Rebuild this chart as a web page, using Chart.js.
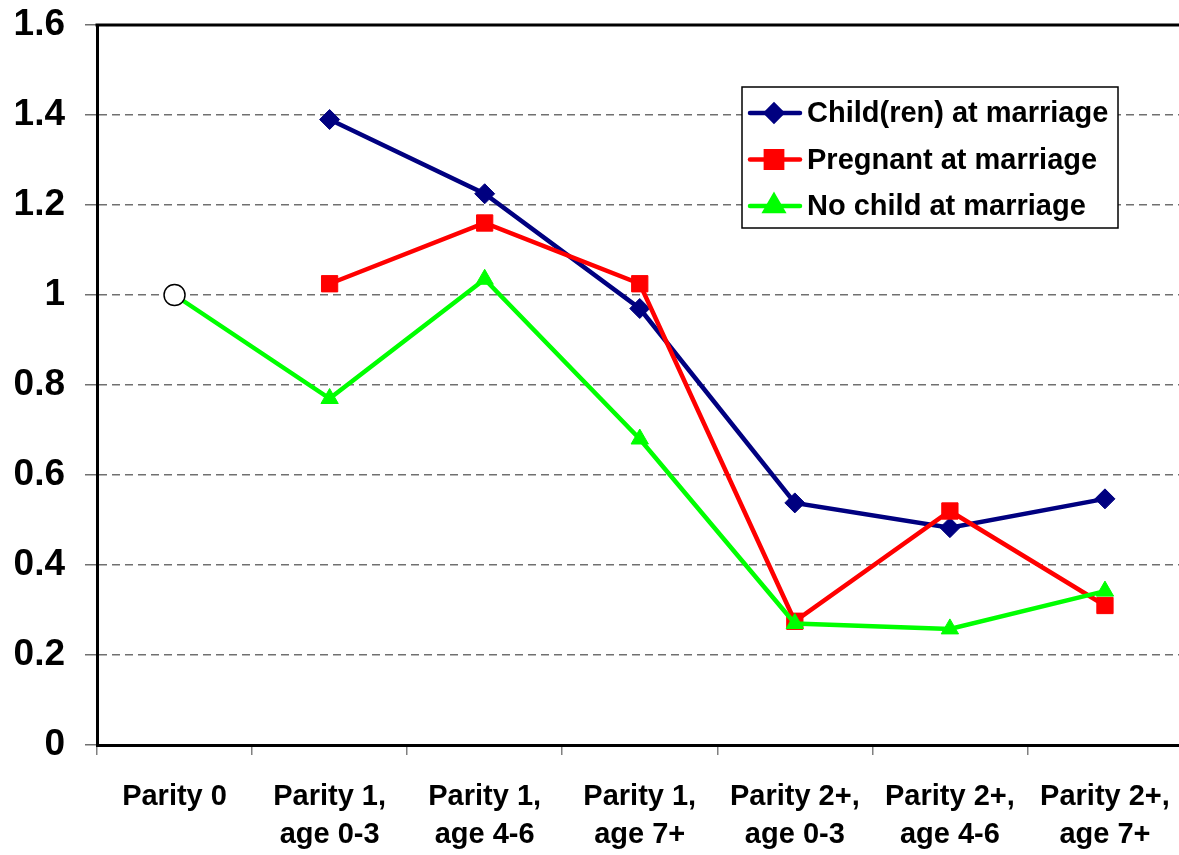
<!DOCTYPE html>
<html>
<head>
<meta charset="utf-8">
<script src="https://cdn.jsdelivr.net/npm/chart.js@4.4.1/dist/chart.umd.min.js"></script>
<style>
html, body { margin: 0; padding: 0; background: #fff; overflow: hidden; }
#wrap { position: relative; width: 1195px; height: 855px; }
</style>
</head>
<body>
<div id="wrap"><canvas id="chart" width="1195" height="855"></canvas></div>
<script>
// data
const categories = [
    ["Parity 0"],
    ["Parity 1,", "age 0-3"],
    ["Parity 1,", "age 4-6"],
    ["Parity 1,", "age 7+"],
    ["Parity 2+,", "age 0-3"],
    ["Parity 2+,", "age 4-6"],
    ["Parity 2+,", "age 7+"]
];
const childAtMarriage    = [null, 1.39, 1.225, 0.97, 0.538, 0.483, 0.547];
const pregnantAtMarriage = [null, 1.025, 1.16, 1.025, 0.275, 0.52, 0.31];
const noChildAtMarriage  = [1.0, 0.77, 1.035, 0.68, 0.27, 0.258, 0.342];
const referencePoint     = [1, null, null, null, null, null, null];
const yMin = 0, yMax = 1.6, yStep = 0.2;

Chart.defaults.font.family = "'Liberation Sans', Arial, sans-serif";
Chart.defaults.color = '#000';

// 圖例框 (畫在繪圖區內)
const legendBox = {
    id: 'legendBox',
    afterDraw(chart, args, o) {
        const ctx = chart.ctx;
        ctx.save();
        ctx.fillStyle = '#fff';
        ctx.fillRect(o.x, o.y, o.w, o.h);
        ctx.strokeStyle = '#000';
        ctx.lineWidth = 1.5;
        ctx.strokeRect(o.x, o.y, o.w, o.h);
        const items = chart.data.datasets.filter(d => d.label);
        items.forEach((ds, i) => {
            const cy = o.y + o.firstRow + i * o.rowGap;
            ctx.strokeStyle = ds.borderColor;
            ctx.lineWidth = ds.borderWidth;
            ctx.lineCap = 'round';
            ctx.beginPath();
            ctx.moveTo(o.x + 8, cy);
            ctx.lineTo(o.x + 58, cy);
            ctx.stroke();
            ctx.fillStyle = ds.pointBackgroundColor;
            ctx.strokeStyle = ds.pointBorderColor;
            Chart.helpers.drawPoint(ctx, { pointStyle: ds.pointStyle, radius: ds.legendRadius, borderWidth: 1, rotation: 0 }, o.x + 32, cy);
            ctx.fillStyle = '#000';
            ctx.font = 'bold 29px ' + Chart.defaults.font.family;
            ctx.textBaseline = 'middle';
            ctx.textAlign = 'left';
            ctx.fillText(ds.label, o.x + 65, cy + 1);
        });
        ctx.restore();
    }
};

// 上框線
const topFrame = {
    id: 'topFrame',
    afterDraw(chart) {
        const { ctx, chartArea } = chart;
        ctx.save();
        ctx.strokeStyle = '#000';
        ctx.lineWidth = 3;
        ctx.beginPath();
        ctx.moveTo(chartArea.left - 1.5, chartArea.top);
        ctx.lineTo(chartArea.right, chartArea.top);
        ctx.lineTo(chartArea.right, chartArea.bottom);
        ctx.stroke();
        ctx.restore();
    }
};

const ctx = document.getElementById('chart').getContext('2d');
new Chart(ctx, {
    type: 'line',
    data: {
        labels: categories,
        datasets: [
            {
                label: 'Child(ren) at marriage',
                data: childAtMarriage,
                borderColor: '#000080',
                borderWidth: 4.5,
                pointStyle: 'rectRot',
                pointRadius: 10,
                legendRadius: 8,
                pointBackgroundColor: '#000080',
                pointBorderColor: '#000080',
                pointBorderWidth: 1,
                tension: 0,
                order: 3
            },
            {
                label: 'Pregnant at marriage',
                data: pregnantAtMarriage,
                borderColor: '#FF0000',
                borderWidth: 4.5,
                pointStyle: 'rect',
                pointRadius: 11.5,
                legendRadius: 11.5,
                pointBackgroundColor: '#FF0000',
                pointBorderColor: '#FF0000',
                pointBorderWidth: 1,
                tension: 0,
                order: 2
            },
            {
                label: 'No child at marriage',
                data: noChildAtMarriage,
                borderColor: '#00FF00',
                borderWidth: 4.5,
                pointStyle: 'triangle',
                pointRadius: 10,
                legendRadius: 10,
                pointBackgroundColor: '#00FF00',
                pointBorderColor: '#00FF00',
                pointBorderWidth: 1,
                tension: 0,
                order: 1
            },
            {
                data: referencePoint,
                showLine: false,
                pointStyle: 'circle',
                pointRadius: 10.5,
                pointBackgroundColor: '#fff',
                pointBorderColor: '#000',
                pointBorderWidth: 1.5,
                order: 0
            }
        ]
    },
    options: {
        responsive: false,
        animation: false,
        layout: { padding: { top: 25, right: 3, left: 0, bottom: 0 } },
        plugins: {
            legend: { display: false },
            tooltip: { enabled: false },
            legendBox: { x: 742, y: 87, w: 376, h: 141, firstRow: 26, rowGap: 46.5 }
        },
        scales: {
            x: {
                offset: true,
                afterFit: (s) => { s.height = 110; s.paddingLeft = 0; s.paddingRight = 0; },
                grid: {
                    offset: true,
                    drawOnChartArea: false,
                    drawTicks: true,
                    tickLength: 10,
                    color: '#808080',
                    lineWidth: 1.5
                },
                border: { color: '#000', width: 3 },
                ticks: {
                    font: { size: 29, weight: 'bold', lineHeight: 1.3 },
                    color: '#000',
                    padding: 23,
                    maxRotation: 0,
                    autoSkip: false
                }
            },
            y: {
                min: yMin,
                max: yMax,
                afterFit: (s) => { s.width = 97; s.paddingTop = 0; s.paddingBottom = 0; },
                grid: {
                    color: '#707070',
                    lineWidth: 1.5,
                    tickLength: 12,
                    tickBorderDash: []
                },
                border: { color: '#000', width: 3, dash: [8, 5] },
                ticks: {
                    stepSize: yStep,
                    font: { size: 37, weight: 'bold' },
                    color: '#000',
                    padding: 20,
                    callback: (v) => String(+v.toFixed(1))
                }
            }
        }
    },
    plugins: [legendBox, topFrame]
});
</script>
</body>
</html>
